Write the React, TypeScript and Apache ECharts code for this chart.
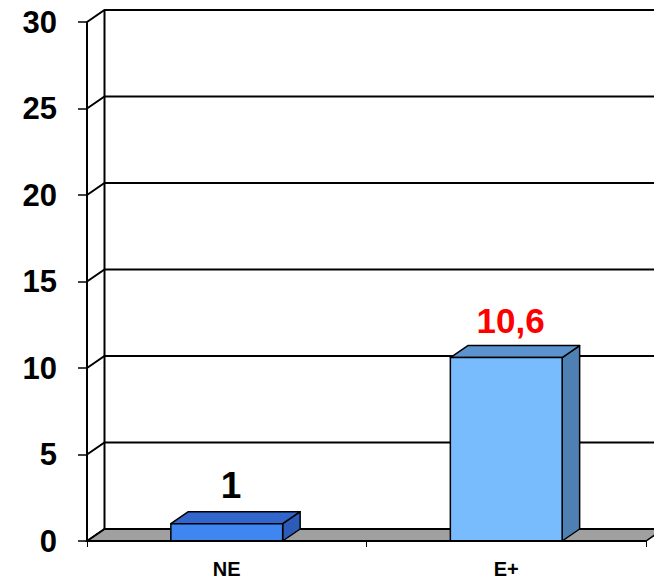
import React, { useEffect, useRef } from "react";
import * as echarts from "echarts";

const categories = ["NE", "E+"];
const values = [1, 10.6];
const valueLabels = ["1", "10,6"];
const labelColors = ["#000000", "#ff0000"];
const labelSizes = [37, 35];
const yTicks = [0, 5, 10, 15, 20, 25, 30];

const frontColors = ["#3f86f0", "#78bcfe"];
const topColors = ["#3366cc", "#5b93cf"];
const sideColors = ["#2c5cb8", "#4e80b4"];

const DX = 17.5;
const DY = 12;
const FONT = "'Liberation Sans', Arial, Helvetica, sans-serif";

export default function App() {
  const ref = useRef<HTMLDivElement>(null);
  useEffect(() => {
    if (!ref.current) return;
    const chart = echarts.init(ref.current, undefined, { renderer: "svg" });
    const option: any = {
      animation: false,
      backgroundColor: "#ffffff",
      grid: { left: 87, right: 8, top: 22, bottom: 40, containLabel: false },
      xAxis: {
        type: "category",
        data: categories,
        z: 5,
        boundaryGap: true,
        axisLine: { show: true, lineStyle: { color: "#000", width: 2 } },
        axisTick: { show: true, length: 6, lineStyle: { color: "#000", width: 1 } },
        axisLabel: {
          color: "#000",
          fontSize: 20,
          fontWeight: "bold",
          fontFamily: FONT,
          margin: 18,
        },
        splitLine: { show: false },
      },
      yAxis: {
        type: "value",
        min: 0,
        max: 30,
        interval: 5,
        z: 5,
        axisLine: { show: true, lineStyle: { color: "#000", width: 2 } },
        axisTick: { show: true, length: 9, lineStyle: { color: "#000", width: 1.5 } },
        axisLabel: {
          color: "#000",
          fontSize: 31,
          fontWeight: "bold",
          fontFamily: FONT,
          margin: 30,
        },
        splitLine: { show: false },
      },
      series: [
        {
          type: "custom",
          z: 1,
          silent: true,
          data: yTicks.map((v) => [0, v]),
          renderItem: (params: any, api: any) => {
            const cs = params.coordSys;
            const L = cs.x;
            const R = cs.x + cs.width;
            const v = api.value(1);
            const y = api.coord([0, v])[1];
            const children: any[] = [];
            if (params.dataIndex === 0) {
              const yTop = api.coord([0, yTicks[yTicks.length - 1]])[1];
              children.push({
                type: "polygon",
                shape: {
                  points: [
                    [L, y],
                    [R, y],
                    [R + DX, y - DY],
                    [L + DX, y - DY],
                  ],
                },
                style: { fill: "#a0a0a0", stroke: "#000", lineWidth: 1.5 },
              });
              children.push({
                type: "line",
                shape: { x1: L + DX, y1: y - DY, x2: L + DX, y2: yTop - DY },
                style: { stroke: "#000", lineWidth: 2 },
              });
            }
            children.push({
              type: "polyline",
              shape: {
                points: [
                  [L, y],
                  [L + DX, y - DY],
                  [R + DX + 2, y - DY],
                ],
              },
              style: { stroke: "#000", lineWidth: 2, fill: null },
            });
            return { type: "group", children };
          },
        },
        {
          type: "custom",
          z: 3,
          data: values.map((v, i) => [i, v]),
          renderItem: (params: any, api: any) => {
            const i = params.dataIndex;
            const idx = api.value(0);
            const val = api.value(1);
            const top = api.coord([idx, val]);
            const base = api.coord([idx, 0]);
            const band = api.size([1, 0])[0];
            const w = band * 0.4;
            const l = top[0] - w / 2;
            const r = top[0] + w / 2;
            const ty = top[1];
            const by = base[1];
            const stroke = { stroke: "#000", lineWidth: 1.5, lineJoin: "round" };
            return {
              type: "group",
              children: [
                {
                  type: "polygon",
                  shape: {
                    points: [
                      [r, ty],
                      [r + DX, ty - DY],
                      [r + DX, by - DY],
                      [r, by],
                    ],
                  },
                  style: { fill: sideColors[i], ...stroke },
                },
                {
                  type: "polygon",
                  shape: {
                    points: [
                      [l, ty],
                      [r, ty],
                      [r + DX, ty - DY],
                      [l + DX, ty - DY],
                    ],
                  },
                  style: { fill: topColors[i], ...stroke },
                },
                {
                  type: "rect",
                  shape: { x: l, y: ty, width: w, height: by - ty },
                  style: { fill: frontColors[i], ...stroke },
                },
                {
                  type: "text",
                  x: top[0] + DX * 0.25,
                  y: ty - DY - 8,
                  style: {
                    text: valueLabels[i],
                    fill: labelColors[i],
                    fontSize: labelSizes[i],
                    fontWeight: "bold",
                    fontFamily: FONT,
                    align: "center",
                    verticalAlign: "bottom",
                  },
                },
              ],
            };
          },
        },
      ],
    };
    chart.setOption(option);
    return () => chart.dispose();
  }, []);
  return (
    <div
      ref={ref}
      style={{ position: "fixed", left: 0, top: 0, width: 654, height: 581, background: "#fff" }}
    />
  );
}
